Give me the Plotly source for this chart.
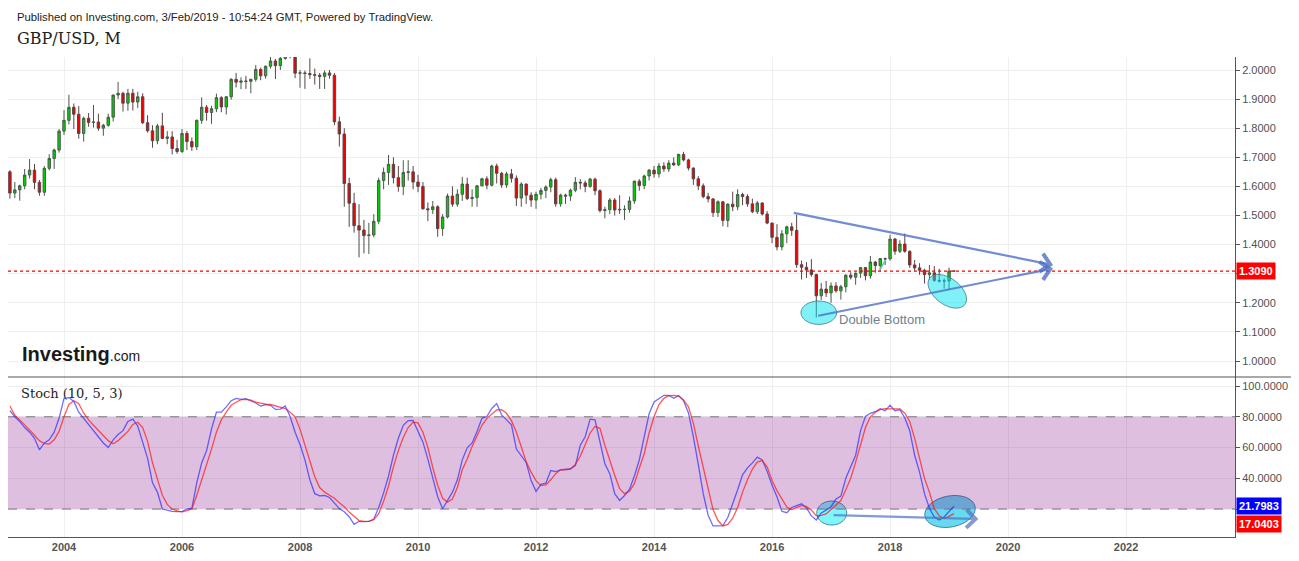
import numpy as np
import pandas as pd
import plotly.graph_objects as go
from plotly.subplots import make_subplots

# GBP/USD monthly candles, Feb 2003 .. Feb 2019
opens = [
    1.650, 1.577, 1.588, 1.602, 1.639, 1.656, 1.614, 1.580, 1.662, 1.696, 1.725,
    1.790, 1.827, 1.872, 1.848, 1.782, 1.834, 1.820, 1.821, 1.800, 1.810, 1.838, 1.914,
    1.920, 1.886, 1.920, 1.890, 1.908, 1.819, 1.791, 1.757, 1.808, 1.765, 1.770, 1.730,
    1.720, 1.782, 1.754, 1.736, 1.827, 1.872, 1.854, 1.867, 1.905, 1.873, 1.908, 1.968,
    1.958, 1.962, 1.961, 1.968, 2.002, 1.980, 2.013, 2.031, 2.015, 2.040, 2.080, 2.060,
    1.989, 1.990, 1.988, 1.984, 1.982, 1.978, 1.990, 1.982, 1.822, 1.780, 1.610, 1.542,
    1.465, 1.450, 1.431, 1.433, 1.480, 1.620, 1.648, 1.676, 1.630, 1.600, 1.648, 1.650,
    1.615, 1.600, 1.523, 1.520, 1.530, 1.455, 1.495, 1.567, 1.539, 1.573, 1.608, 1.558,
    1.562, 1.602, 1.626, 1.604, 1.670, 1.645, 1.605, 1.643, 1.628, 1.560, 1.608, 1.570,
    1.553, 1.573, 1.586, 1.598, 1.623, 1.540, 1.570, 1.567, 1.587, 1.614, 1.612, 1.600,
    1.625, 1.585, 1.517, 1.520, 1.553, 1.519, 1.521, 1.521, 1.550, 1.618, 1.603, 1.636,
    1.656, 1.643, 1.670, 1.660, 1.680, 1.674, 1.710, 1.691, 1.663, 1.626, 1.602, 1.565,
    1.557, 1.510, 1.547, 1.483, 1.539, 1.530, 1.572, 1.565, 1.540, 1.513, 1.543, 1.505,
    1.474, 1.425, 1.392, 1.437, 1.461, 1.449, 1.331, 1.322, 1.313, 1.297, 1.224, 1.247,
    1.234, 1.258, 1.241, 1.255, 1.295, 1.288, 1.302, 1.321, 1.293, 1.340, 1.328, 1.352,
    1.351, 1.419, 1.377, 1.402, 1.377, 1.330, 1.320, 1.312, 1.297, 1.303, 1.277, 1.275,
    1.275, 1.309,
]
highs = [
    1.656, 1.615, 1.606, 1.660, 1.694, 1.677, 1.622, 1.670, 1.711, 1.730, 1.797,
    1.862, 1.915, 1.885, 1.876, 1.840, 1.852, 1.880, 1.850, 1.815, 1.850, 1.915, 1.959,
    1.925, 1.935, 1.935, 1.925, 1.920, 1.845, 1.810, 1.815, 1.853, 1.790, 1.790, 1.760,
    1.797, 1.790, 1.768, 1.830, 1.906, 1.880, 1.877, 1.919, 1.910, 1.910, 1.972, 1.990,
    1.975, 1.980, 1.970, 2.017, 2.008, 2.015, 2.065, 2.038, 2.045, 2.085, 2.116, 2.070,
    2.000, 1.998, 2.040, 2.005, 1.990, 1.999, 2.000, 1.990, 1.840, 1.800, 1.630, 1.578,
    1.539, 1.485, 1.475, 1.505, 1.630, 1.665, 1.708, 1.700, 1.670, 1.690, 1.690, 1.670,
    1.640, 1.615, 1.545, 1.550, 1.535, 1.505, 1.575, 1.600, 1.590, 1.633, 1.630, 1.590,
    1.605, 1.630, 1.635, 1.675, 1.678, 1.650, 1.650, 1.660, 1.638, 1.614, 1.610, 1.580,
    1.582, 1.595, 1.604, 1.630, 1.630, 1.575, 1.575, 1.592, 1.632, 1.625, 1.620, 1.630,
    1.630, 1.590, 1.530, 1.560, 1.560, 1.570, 1.535, 1.565, 1.620, 1.625, 1.640, 1.660,
    1.670, 1.680, 1.683, 1.690, 1.700, 1.712, 1.719, 1.695, 1.665, 1.635, 1.610, 1.578,
    1.560, 1.552, 1.550, 1.542, 1.582, 1.590, 1.578, 1.573, 1.558, 1.550, 1.545, 1.515,
    1.475, 1.470, 1.450, 1.465, 1.475, 1.502, 1.345, 1.340, 1.350, 1.300, 1.268, 1.275,
    1.270, 1.271, 1.262, 1.298, 1.305, 1.304, 1.322, 1.321, 1.361, 1.344, 1.354, 1.355,
    1.434, 1.423, 1.415, 1.438, 1.380, 1.347, 1.336, 1.317, 1.330, 1.326, 1.317, 1.284,
    1.321, 1.310,
]
lows = [
    1.558, 1.560, 1.551, 1.590, 1.627, 1.590, 1.568, 1.568, 1.655, 1.660, 1.716,
    1.777, 1.813, 1.797, 1.764, 1.754, 1.805, 1.802, 1.791, 1.774, 1.805, 1.823, 1.900,
    1.857, 1.860, 1.861, 1.869, 1.814, 1.785, 1.733, 1.745, 1.762, 1.745, 1.710, 1.712,
    1.715, 1.725, 1.722, 1.725, 1.815, 1.826, 1.815, 1.855, 1.855, 1.847, 1.898, 1.940,
    1.934, 1.935, 1.920, 1.960, 1.965, 1.970, 2.005, 1.969, 2.000, 2.035, 2.040, 1.972,
    1.939, 1.935, 1.970, 1.950, 1.935, 1.935, 1.970, 1.810, 1.737, 1.530, 1.461, 1.441,
    1.356, 1.370, 1.368, 1.425, 1.470, 1.590, 1.605, 1.610, 1.582, 1.570, 1.620, 1.590,
    1.580, 1.520, 1.481, 1.505, 1.427, 1.430, 1.490, 1.530, 1.530, 1.550, 1.553, 1.530,
    1.530, 1.600, 1.590, 1.600, 1.610, 1.595, 1.595, 1.613, 1.533, 1.530, 1.540, 1.530,
    1.523, 1.555, 1.560, 1.580, 1.530, 1.530, 1.540, 1.550, 1.580, 1.590, 1.580, 1.595,
    1.570, 1.510, 1.490, 1.505, 1.500, 1.505, 1.485, 1.510, 1.540, 1.585, 1.590, 1.620,
    1.630, 1.630, 1.650, 1.650, 1.670, 1.670, 1.686, 1.655, 1.605, 1.587, 1.559, 1.545,
    1.495, 1.495, 1.463, 1.460, 1.515, 1.518, 1.535, 1.530, 1.508, 1.505, 1.500, 1.470,
    1.405, 1.380, 1.380, 1.405, 1.430, 1.320, 1.280, 1.285, 1.290, 1.150, 1.210, 1.220,
    1.200, 1.235, 1.211, 1.236, 1.280, 1.262, 1.285, 1.277, 1.283, 1.303, 1.307, 1.330,
    1.345, 1.365, 1.371, 1.372, 1.320, 1.310, 1.296, 1.266, 1.279, 1.272, 1.270, 1.249,
    1.244, 1.308,
]
closes = [
    1.577, 1.588, 1.602, 1.639, 1.656, 1.614, 1.580, 1.662, 1.696, 1.725, 1.790,
    1.827, 1.872, 1.848, 1.782, 1.834, 1.820, 1.821, 1.800, 1.810, 1.838, 1.914, 1.920,
    1.886, 1.920, 1.890, 1.908, 1.819, 1.791, 1.757, 1.808, 1.765, 1.770, 1.730, 1.720,
    1.782, 1.754, 1.736, 1.827, 1.872, 1.854, 1.867, 1.905, 1.873, 1.908, 1.968, 1.958,
    1.962, 1.961, 1.968, 2.002, 1.980, 2.013, 2.031, 2.015, 2.040, 2.080, 2.060, 1.989,
    1.990, 1.988, 1.984, 1.982, 1.978, 1.990, 1.982, 1.822, 1.780, 1.610, 1.542, 1.465,
    1.450, 1.431, 1.433, 1.480, 1.620, 1.648, 1.676, 1.630, 1.600, 1.648, 1.650, 1.615,
    1.600, 1.523, 1.520, 1.530, 1.455, 1.495, 1.567, 1.539, 1.573, 1.608, 1.558, 1.562,
    1.602, 1.626, 1.604, 1.670, 1.645, 1.605, 1.643, 1.628, 1.560, 1.608, 1.570, 1.553,
    1.573, 1.586, 1.598, 1.623, 1.540, 1.570, 1.567, 1.587, 1.614, 1.612, 1.600, 1.625,
    1.585, 1.517, 1.520, 1.553, 1.519, 1.521, 1.521, 1.550, 1.618, 1.603, 1.636, 1.656,
    1.643, 1.670, 1.660, 1.680, 1.674, 1.710, 1.691, 1.663, 1.626, 1.602, 1.565, 1.557,
    1.510, 1.547, 1.483, 1.539, 1.530, 1.572, 1.565, 1.540, 1.513, 1.543, 1.505, 1.474,
    1.425, 1.392, 1.437, 1.461, 1.449, 1.331, 1.322, 1.313, 1.297, 1.224, 1.247, 1.234,
    1.258, 1.241, 1.255, 1.295, 1.288, 1.302, 1.321, 1.293, 1.340, 1.328, 1.352, 1.351,
    1.419, 1.377, 1.402, 1.377, 1.330, 1.320, 1.312, 1.297, 1.303, 1.277, 1.275, 1.275,
    1.309, 1.3090,
]

# Stoch (10, 5, 3): %K (blue) and %D (red)
stoch_k = [
    84, 80, 77, 73, 70, 66, 58.5, 63, 65, 70, 79,
    92, 92.5, 90, 83, 79, 75.5, 71.5, 67, 63, 60, 65, 68.5,
    71, 77, 78.5, 74, 64, 53, 37, 31, 20, 19, 18.5, 18.3,
    18.3, 20, 20.5, 37, 50, 58, 72, 83, 83, 86.5, 90.5, 92,
    91.3, 91.8, 90.5, 89, 87, 88, 87.5, 84.8, 85, 87, 80, 70,
    62, 52, 39, 30, 28.5, 28.8, 27.5, 23.8, 20.3, 18.2, 15, 10,
    12, 11.8, 12, 13.5, 21, 30.5, 41.5, 55, 66, 74.5, 77.5, 77.6,
    70, 63.5, 52.5, 40.5, 28, 20.2, 25.5, 31, 39, 52, 59.8, 63,
    70.5, 79, 80.2, 85.4, 88.6, 81.2, 78, 74.8, 59, 54.5, 50.3, 38.5,
    31.5, 36, 36.8, 45, 44.3, 45.5, 45.9, 46.2, 48.3, 61.5, 67, 78.5,
    78, 64, 49.5, 43, 30, 25.6, 28.8, 32.8, 41.5, 51.9, 67, 82,
    89.7, 91.9, 94, 94, 92, 93.8, 90.5, 82.5, 67, 49, 30, 16,
    9, 9.1, 9.2, 14.5, 23, 32.5, 42.3, 46.8, 50, 53.8, 52, 44.5,
    35.5, 28, 18.5, 17.6, 21, 22, 23.4, 20.7, 15.5, 12.9, 17.4, 19.3,
    21.5, 26.5, 28.4, 40, 48, 55, 71, 80.2, 82.3, 83.3, 85.3, 83.9,
    87.6, 84, 84.7, 79.2, 71, 55, 44, 30, 20.5, 14.8, 12.8, 14.8,
    18.5, 21.7983,
]
stoch_d = [
    87, 81, 78, 75, 71.5, 68, 64.5, 62.5, 62.3, 65, 70.5,
    80, 88, 90.5, 88.5, 82.5, 78, 74.5, 71, 68, 64.5, 62.5, 64.5,
    67.5, 70.5, 75, 76.5, 73, 64, 50, 39, 29, 23, 20, 18.8,
    18.1, 19, 20, 29, 39, 48, 59, 70, 78, 83, 87.5, 89.5,
    91.2, 91.3, 90.8, 89.5, 88.6, 88.2, 88, 87, 86, 85.4, 83, 80,
    72, 62, 52, 41, 34, 31, 29, 27, 24, 21.5, 18, 15,
    12.5, 12, 12, 13, 17, 25, 35, 47.5, 58, 66.5, 73, 76.5,
    76, 70, 60, 47, 35.5, 27, 24.5, 26.5, 34, 45.5, 52.5, 60.7,
    67.5, 74.5, 79, 82, 84.5, 84.6, 82.3, 77.5, 70, 60.5, 50.7, 44,
    38.5, 35.2, 35.7, 39, 43, 45.5, 45.5, 46, 49, 54.3, 62.5, 69.5,
    73.8, 72.5, 61.5, 51.5, 42, 33.3, 30, 31.5, 36.5, 46.5, 56, 69.5,
    80, 88, 92, 93.7, 94, 93.5, 91, 86.5, 75.7, 61, 47, 33,
    19.6, 12.5, 9, 10, 14, 21, 31, 39, 46, 50.5, 51.5, 47.5,
    38.5, 32, 26.5, 21.3, 19.6, 21, 22.3, 21.5, 19.3, 15.5, 15.8, 16.8,
    19.5, 22.5, 25.5, 32.5, 40, 50.5, 61.5, 73, 80, 83, 84.6, 85.3,
    85.1, 85, 85.2, 82.3, 77, 66, 52, 40, 31, 20.2, 15.6, 13.8,
    15.2, 17.0403,
]

year_ticks = list(range(2004, 2023, 2))
price_ticks = [1.0, 1.1, 1.2, 1.3, 1.4, 1.5, 1.6, 1.7, 1.8, 1.9, 2.0]
stoch_ticks = [20, 40, 60, 80, 100]
last_price = 1.3090
last_k = 21.7983
last_d = 17.0403

months = pd.date_range("2003-02-01", periods=len(closes), freq="MS")
x = list(months.year + (months.month - 1) / 12)

X_RANGE = [2003.051, 2023.846]
PRICE_RANGE = [0.945, 2.0447]
STOCH_RANGE = [1.8, 105.9]
PLOT_W, PRICE_H, STOCH_H = 1227, 320, 160


def ellipse_path(cx, cy, rx, ry, angle, y_range, panel_h):
    # ellipse given in screen pixels, turned into a data-space polygon
    sx = (X_RANGE[1] - X_RANGE[0]) / PLOT_W
    sy = (y_range[1] - y_range[0]) / panel_h
    t = np.linspace(0, 2 * np.pi, 64)
    a = np.radians(angle)
    dx = rx * np.cos(t) * np.cos(a) - ry * np.sin(t) * np.sin(a)
    dy = rx * np.cos(t) * np.sin(a) + ry * np.sin(t) * np.cos(a)
    pts = [f"{cx + u * sx:.5f},{cy - v * sy:.5f}" for u, v in zip(dx, dy)]
    return "M" + " L".join(pts) + " Z"


fig = make_subplots(rows=2, cols=1, shared_xaxes=True, vertical_spacing=0)

fig.add_trace(go.Candlestick(
    x=x, open=opens, high=highs, low=lows, close=closes,
    increasing=dict(fillcolor="#00d000", line=dict(color="#4a5a4a", width=1)),
    decreasing=dict(fillcolor="#f00000", line=dict(color="#5a4444", width=1)),
    whiskerwidth=0, showlegend=False, hoverinfo="skip",
), row=1, col=1)

fig.add_trace(go.Scatter(x=x, y=stoch_k, mode="lines",
                         line=dict(color="rgba(30,30,255,0.65)", width=1.3),
                         showlegend=False, hoverinfo="skip"), row=2, col=1)
fig.add_trace(go.Scatter(x=x, y=stoch_d, mode="lines",
                         line=dict(color="rgba(255,20,20,0.7)", width=1.3),
                         showlegend=False, hoverinfo="skip"), row=2, col=1)

grid = "#efefef"
axis_font = dict(family="Liberation Sans, Arial", size=11, color="#505050")

fig.update_xaxes(range=X_RANGE, tickvals=year_ticks, showgrid=True, gridcolor=grid,
                 zeroline=False, rangeslider_visible=False)
fig.update_xaxes(showticklabels=False, row=1, col=1)
fig.update_xaxes(showline=True, linecolor="#555", linewidth=1, ticks="",
                 tickfont=dict(family="Liberation Sans, Arial", size=11,
                               color="#555", weight="bold"),
                 row=2, col=1)

fig.update_yaxes(side="right", showgrid=True, gridcolor=grid, zeroline=False,
                 showline=True, linecolor="#555", linewidth=1,
                 ticks="outside", ticklen=4, tickcolor="#555", tickfont=axis_font)
fig.update_yaxes(range=PRICE_RANGE, tickvals=price_ticks,
                 ticktext=["" if abs(v - 1.3) < 1e-9 else f"{v:.4f}" for v in price_ticks],
                 row=1, col=1)
fig.update_yaxes(range=STOCH_RANGE, tickvals=stoch_ticks,
                 ticktext=["" if v == 20 else f"{v:.4f}" for v in stoch_ticks],
                 row=2, col=1)

# the page body adds an 8px margin, so the figure is 8px smaller each way
fig.update_layout(
    width=1291, height=553,
    margin=dict(l=0, r=64, t=49, b=24),
    paper_bgcolor="white", plot_bgcolor="white",
    yaxis=dict(domain=[1 / 3, 1]),
    yaxis2=dict(domain=[0, 1 / 3]),
    showlegend=False,
)

shapes = []
# stoch ellipses sit under the overbought/oversold band
shapes.append(dict(type="path", xref="x2", yref="y2", layer="between",
                   path=ellipse_path(2017.011, 17.4, 15, 12, 0, STOCH_RANGE, STOCH_H),
                   fillcolor="rgba(0,240,245,0.5)", line=dict(color="rgba(50,110,130,0.8)", width=1)))
shapes.append(dict(type="path", xref="x2", yref="y2", layer="between",
                   path=ellipse_path(2019.016, 18.4, 25.5, 15.5, -11, STOCH_RANGE, STOCH_H),
                   fillcolor="rgba(0,195,228,0.6)", line=dict(color="rgba(50,100,130,0.8)", width=1)))
shapes.append(dict(type="rect", xref="x2", yref="y2", x0=X_RANGE[0], x1=X_RANGE[1],
                   y0=20, y1=80, fillcolor="rgba(128,0,128,0.25)", line=dict(width=0),
                   layer="between"))
for lvl in (20, 80):
    shapes.append(dict(type="line", xref="x2", yref="y2", x0=X_RANGE[0], x1=X_RANGE[1],
                       y0=lvl, y1=lvl, layer="between",
                       line=dict(color="#777", width=1, dash="dash")))
# panel separator
shapes.append(dict(type="line", xref="paper", yref="paper", x0=0, x1=1.0456,
                   y0=1 / 3, y1=1 / 3, line=dict(color="#555", width=1)))
# last price line
shapes.append(dict(type="line", xref="paper", yref="y", x0=0, x1=1,
                   y0=last_price, y1=last_price,
                   line=dict(color="#ff0000", width=1.2, dash="dot")))
# price ellipses
shapes.append(dict(type="path", xref="x", yref="y",
                   path=ellipse_path(2016.792, 1.166, 17.8, 11.7, 0, PRICE_RANGE, PRICE_H),
                   fillcolor="rgba(0,228,240,0.5)", line=dict(color="rgba(60,120,140,0.8)", width=1)))
shapes.append(dict(type="path", xref="x", yref="y",
                   path=ellipse_path(2018.970, 1.2395, 22, 13, 37, PRICE_RANGE, PRICE_H),
                   fillcolor="rgba(0,228,240,0.5)", line=dict(color="rgba(60,120,140,0.8)", width=1)))
# small stray stroke drawn on the chart near early 2018
shapes.append(dict(type="line", xref="x", yref="y", x0=2017.829, y0=1.3127,
                   x1=2017.919, y1=1.347, line=dict(color="#5cc8c8", width=1.5)))
fig.update_layout(shapes=shapes)

arrow_col = "rgba(80,112,200,0.8)"
ann = [
    dict(text="Published on Investing.com, 3/Feb/2019 - 10:54:24 GMT, Powered by TradingView.",
         xref="paper", yref="paper", x=0.0057, y=1.0833, xanchor="left", yanchor="middle",
         showarrow=False, font=dict(family="Liberation Sans, Arial", size=11.3, color="#222")),
    dict(text="GBP/USD, M", xref="paper", yref="paper", x=0.0057, y=1.0375,
         xanchor="left", yanchor="middle", showarrow=False,
         font=dict(family="DejaVu Serif", size=16, color="#222")),
    dict(text="Stoch (10, 5, 3)", xref="paper", yref="paper", x=0.009, y=0.30,
         xanchor="left", yanchor="middle", showarrow=False,
         font=dict(family="DejaVu Serif", size=13, color="#222")),
    dict(text="<b>Investing</b><span style='font-size:14px'>.com</span>",
         xref="paper", yref="paper", x=0.0098, y=0.381, xanchor="left", yanchor="middle",
         showarrow=False, font=dict(family="Liberation Sans, Arial", size=20, color="#1a1a1a")),
    dict(text="Double Bottom", xref="x", yref="y", x=2017.10, y=1.141,
         xanchor="left", yanchor="middle", showarrow=False,
         font=dict(family="Liberation Sans, Arial", size=13, color="#6e7f90")),
    dict(text="<b>1.3090</b>", xref="paper", yref="y", x=1, y=last_price, xshift=1,
         xanchor="left", yanchor="middle", showarrow=False, bgcolor="#ff0000", borderpad=2,
         font=dict(family="Liberation Sans, Arial", size=11, color="white")),
    dict(text=f"<b>{last_k:.4f}</b>", xref="paper", yref="y2", x=1, y=last_k, xshift=1,
         xanchor="left", yanchor="middle", showarrow=False, bgcolor="#0000ff", borderpad=2,
         font=dict(family="Liberation Sans, Arial", size=11, color="white")),
    dict(text=f"<b>{last_d:.4f}</b>", xref="paper", yref="y2", x=1, y=last_d, xshift=1,
         yshift=-10, xanchor="left", yanchor="middle", showarrow=False, bgcolor="#ff0000",
         borderpad=2, font=dict(family="Liberation Sans, Arial", size=11, color="white")),
    # trend lines
    dict(text="", xref="x", yref="y", axref="x", ayref="y",
         x=2020.761, y=1.330, ax=2016.343, ay=1.510, showarrow=True,
         arrowhead=4, arrowsize=1.6, arrowwidth=2.2, arrowcolor=arrow_col),
    dict(text="", xref="x", yref="y", axref="x", ayref="y",
         x=2020.761, y=1.318, ax=2016.757, ay=1.1546, showarrow=True,
         arrowhead=4, arrowsize=1.6, arrowwidth=2.2, arrowcolor=arrow_col),
    dict(text="", xref="x2", yref="y2", axref="x2", ayref="y2",
         x=2019.496, y=13.5, ax=2017.016, ay=16.1, showarrow=True,
         arrowhead=4, arrowsize=1.6, arrowwidth=2.2, arrowcolor="rgba(80,112,200,0.7)"),
]
fig.update_layout(annotations=ann)

fig.write_html("out.html")
